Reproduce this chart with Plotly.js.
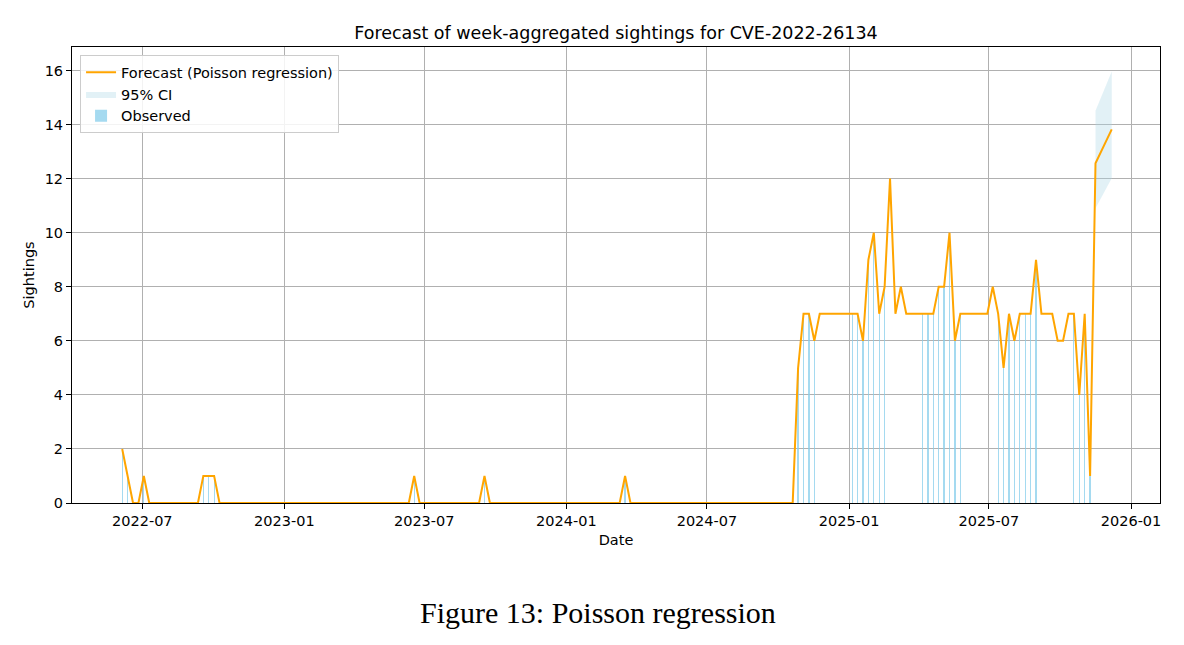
<!DOCTYPE html>
<html>
<head>
<meta charset="utf-8">
<script src="https://cdn.plot.ly/plotly-3.0.1.min.js"></script>
<style>
  html, body { margin: 0; padding: 0; background: #ffffff; }
  #chart { width: 1184px; height: 645px; }
</style>
</head>
<body>
<div id="chart"></div>
<script>
// Observed weekly sightings (weeks with sightings)
const obsDates = [
  '2022-06-05','2022-06-12','2022-07-03','2022-09-18','2022-09-25','2022-10-02',
  '2023-06-18','2023-09-17','2024-03-17',
  '2024-10-27','2024-11-03','2024-11-10','2024-11-17',
  '2025-01-05','2025-01-12','2025-01-19','2025-01-26','2025-02-02','2025-02-09','2025-02-16',
  '2025-04-06','2025-04-13','2025-04-20','2025-04-27','2025-05-04','2025-05-11','2025-05-18','2025-05-25',
  '2025-07-13','2025-07-20','2025-07-27','2025-08-03','2025-08-10','2025-08-17','2025-08-24','2025-08-31',
  '2025-10-19','2025-10-26','2025-11-02','2025-11-09'
];
const obsValues = [
  2,1,1,1,1,1,
  1,1,1,
  5,7,7,6,
  7,7,6,9,10,7,8,
  7,7,7,8,8,10,6,7,
  7,5,7,6,7,7,7,9,
  7,4,7,1
];

// Forecast line (fitted + future), vertices
const fcDates = [
  '2022-06-05','2022-06-12','2022-06-19','2022-06-26','2022-07-03','2022-07-10',
  '2022-09-11','2022-09-18','2022-09-25','2022-10-02','2022-10-09',
  '2023-06-11','2023-06-18','2023-06-25',
  '2023-09-10','2023-09-17','2023-09-24',
  '2024-03-10','2024-03-17','2024-03-24',
  '2024-10-20','2024-10-27','2024-11-03','2024-11-10','2024-11-17','2024-11-24',
  '2024-12-01','2024-12-08','2024-12-15','2024-12-22','2024-12-29',
  '2025-01-05','2025-01-12','2025-01-19','2025-01-26','2025-02-02','2025-02-09','2025-02-16','2025-02-23',
  '2025-03-02','2025-03-09','2025-03-16','2025-03-23','2025-03-30',
  '2025-04-06','2025-04-13','2025-04-20','2025-04-27','2025-05-04','2025-05-11','2025-05-18','2025-05-25',
  '2025-06-01','2025-06-08','2025-06-15','2025-06-22','2025-06-29',
  '2025-07-06','2025-07-13','2025-07-20','2025-07-27','2025-08-03','2025-08-10','2025-08-17','2025-08-24','2025-08-31',
  '2025-09-07','2025-09-14','2025-09-21','2025-09-28','2025-10-05','2025-10-12','2025-10-19','2025-10-26',
  '2025-11-02','2025-11-09','2025-11-16','2025-12-07'
];
const fcValues = [
  2,1,0,0,1,0,
  0,1,1,1,0,
  0,1,0,
  0,1,0,
  0,1,0,
  0,5,7,7,6,7,
  7,7,7,7,7,
  7,7,6,9,10,7,8,12,
  7,8,7,7,7,
  7,7,7,8,8,10,6,7,
  7,7,7,7,7,
  8,7,5,7,6,7,7,7,9,
  7,7,7,6,6,7,7,4,
  7,1,12.57,13.82
];

// 95% confidence interval for the future part
const ciDates = ['2025-11-16','2025-12-07'];
const ciLower = [10.90, 12.01];
const ciUpper = [14.51, 15.96];

// Axis ticks
const xTickVals = ['2022-07-01','2023-01-01','2023-07-01','2024-01-01','2024-07-01','2025-01-01','2025-07-01','2026-01-01'];
const xTickText = ['2022-07','2023-01','2023-07','2024-01','2024-07','2025-01','2025-07','2026-01'];
const yTickVals = [0,2,4,6,8,10,12,14,16];

const FONT = 'DejaVu Sans, sans-serif';
const FS = 14.5;
const DAY = 86400000;

const ciTrace = {
  type: 'scatter',
  mode: 'lines',
  x: ciDates.concat(ciDates.slice().reverse()),
  y: ciLower.concat(ciUpper.slice().reverse()),
  fill: 'toself',
  fillcolor: 'rgba(173,216,230,0.35)',
  line: { width: 0, color: 'rgba(173,216,230,0)' },
  name: '95% CI',
  legendrank: 2,
  hoverinfo: 'skip'
};

const barTrace = {
  type: 'bar',
  x: obsDates,
  y: obsValues,
  width: obsDates.map(() => 1.6 * DAY),
  marker: { color: 'rgba(135,206,235,0.75)', line: { width: 0 } },
  name: 'Observed',
  legendrank: 3
};

const lineTrace = {
  type: 'scatter',
  mode: 'lines',
  x: fcDates,
  y: fcValues,
  line: { color: '#FFA500', width: 2 },
  name: 'Forecast (Poisson regression)',
  legendrank: 1
};

const layout = {
  width: 1184,
  height: 645,
  paper_bgcolor: '#ffffff',
  plot_bgcolor: '#ffffff',
  margin: { l: 72, r: 24, t: 47, b: 142, pad: 0 },
  font: { family: FONT, size: FS, color: '#000000' },
  title: {
    text: 'Forecast of week-aggregated sightings for CVE-2022-26134',
    font: { family: FONT, size: 17.5, color: '#000000' },
    x: 0.5, xref: 'paper', xanchor: 'center',
    y: 1, yref: 'paper', yanchor: 'bottom', pad: { b: 8 }
  },
  xaxis: {
    type: 'date',
    range: ['2022-04-01', '2026-02-07 12:00'],
    tickvals: xTickVals,
    ticktext: xTickText,
    ticks: 'outside', ticklen: 5, tickwidth: 1, tickcolor: '#000',
    showgrid: true, gridcolor: '#b0b0b0', gridwidth: 1,
    showline: true, linecolor: '#000', linewidth: 1, mirror: true,
    zeroline: false,
    tickfont: { family: FONT, size: FS, color: '#000' },
    title: { text: 'Date', font: { family: FONT, size: FS, color: '#000' }, standoff: 6 }
  },
  yaxis: {
    range: [0, 16.87],
    tickvals: yTickVals,
    ticks: 'outside', ticklen: 5, tickwidth: 1, tickcolor: '#000',
    showgrid: true, gridcolor: '#b0b0b0', gridwidth: 1,
    showline: true, linecolor: '#000', linewidth: 1, mirror: true,
    zeroline: false,
    tickfont: { family: FONT, size: FS, color: '#000' },
    title: { text: 'Sightings', font: { family: FONT, size: FS, color: '#000' }, standoff: 6 }
  },
  bargap: 0,
  showlegend: true,
  legend: {
    x: 0.0074, y: 0.982, xanchor: 'left', yanchor: 'top',
    bgcolor: 'rgba(255,255,255,0.85)',
    bordercolor: '#cccccc', borderwidth: 1,
    font: { family: FONT, size: FS, color: '#000' },
    traceorder: 'normal'
  },
  annotations: [{
    text: 'Figure 13: Poisson regression',
    xref: 'paper', yref: 'paper',
    x: (598 - 72) / 1088, y: -(612 - 503) / 456,
    xanchor: 'center', yanchor: 'middle',
    showarrow: false,
    font: { family: 'Liberation Serif, Times New Roman, serif', size: 30, color: '#000' }
  }]
};

Plotly.newPlot('chart', [ciTrace, barTrace, lineTrace], layout, { displayModeBar: false });
</script>
</body>
</html>
